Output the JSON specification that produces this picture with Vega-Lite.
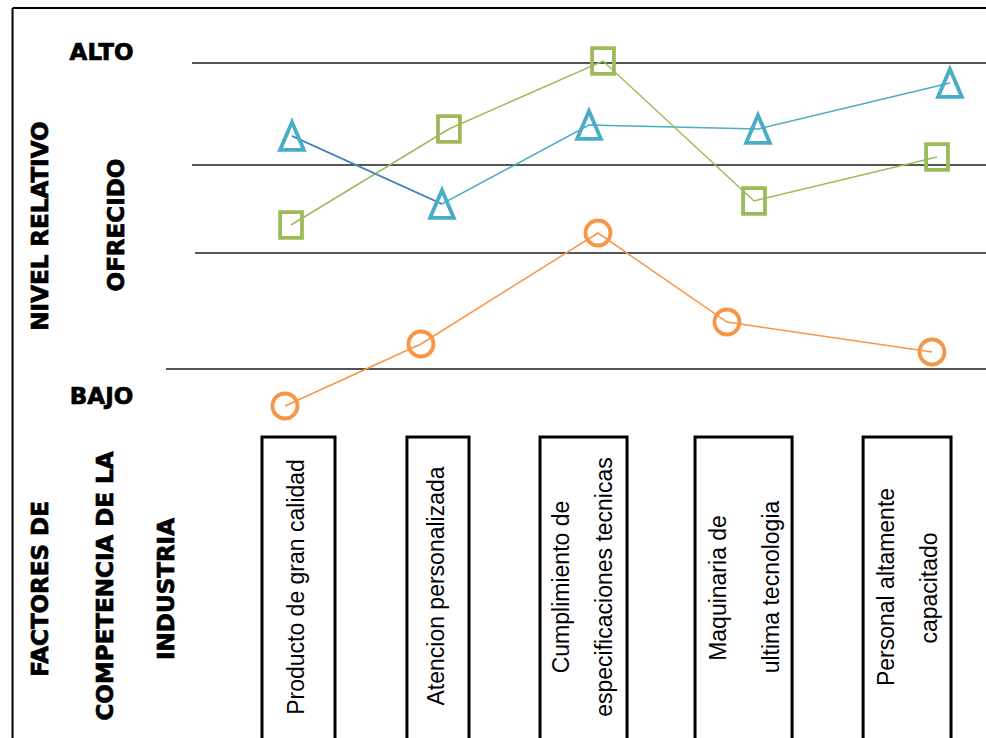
{
  "$schema": "https://vega.github.io/schema/vega-lite/v6.json",
  "width": 986,
  "height": 738,
  "autosize": {"type": "none"},
  "padding": 0,
  "background": "white",
  "config": {"view": {"stroke": null}},
  "datasets": {
    "puntos": [
      {"serie": "Serie 1", "factor": 1, "x": 0.957, "nivel": 7.587},
      {"serie": "Serie 1", "factor": 2, "x": 1.943, "nivel": 5.610},
      {"serie": "Serie 1", "factor": 3, "x": 2.910, "nivel": 7.907},
      {"serie": "Serie 1", "factor": 4, "x": 4.021, "nivel": 7.791},
      {"serie": "Serie 1", "factor": 5, "x": 5.283, "nivel": 9.128},
      {"serie": "Serie 2", "factor": 1, "x": 0.951, "nivel": 5.000},
      {"serie": "Serie 2", "factor": 2, "x": 1.989, "nivel": 7.791},
      {"serie": "Serie 2", "factor": 3, "x": 3.002, "nivel": 9.767},
      {"serie": "Serie 2", "factor": 4, "x": 3.995, "nivel": 5.698},
      {"serie": "Serie 2", "factor": 5, "x": 5.198, "nivel": 6.977},
      {"serie": "Serie 3", "factor": 1, "x": 0.911, "nivel": -0.262},
      {"serie": "Serie 3", "factor": 2, "x": 1.805, "nivel": 1.541},
      {"serie": "Serie 3", "factor": 3, "x": 2.969, "nivel": 4.767},
      {"serie": "Serie 3", "factor": 4, "x": 3.817, "nivel": 2.180},
      {"serie": "Serie 3", "factor": 5, "x": 5.165, "nivel": 1.308}
    ],
    "guias": [
      {"nivel": 9.709, "desde": 0.300, "hasta": 5.52},
      {"nivel": 6.744, "desde": 0.300, "hasta": 5.52},
      {"nivel": 4.186, "desde": 0.320, "hasta": 5.52},
      {"nivel": 0.814, "desde": 0.129, "hasta": 5.52}
    ],
    "marco": [
      {"x": -0.880, "x2": -0.880, "y": -9.913, "y2": 11.308},
      {"x": -0.880, "x2": 5.52, "y": 11.308, "y2": 11.308}
    ],
    "cajas": [
      {"factor": "Producto de gran calidad", "x1": 0.760, "x2": 1.240, "arriba": -1.163, "abajo": -10.5},
      {"factor": "Atencion personalizada", "x1": 1.713, "x2": 2.121, "arriba": -1.163, "abajo": -10.5},
      {"factor": "Cumplimiento de especificaciones tecnicas", "x1": 2.588, "x2": 3.160, "arriba": -1.163, "abajo": -10.5},
      {"factor": "Maquinaria de ultima tecnologia", "x1": 3.607, "x2": 4.245, "arriba": -1.163, "abajo": -10.5},
      {"factor": "Personal altamente capacitado", "x1": 4.712, "x2": 5.290, "arriba": -1.163, "abajo": -10.5}
    ],
    "etiquetas": [
      {"linea": "Producto de gran calidad", "x": 0.990, "nivel": -5.523},
      {"linea": "Atencion personalizada", "x": 1.911, "nivel": -5.494},
      {"linea": "Cumplimiento de", "x": 2.732, "nivel": -5.523},
      {"linea": "especificaciones tecnicas", "x": 3.015, "nivel": -5.523},
      {"linea": "Maquinaria de", "x": 3.762, "nivel": -5.552},
      {"linea": "ultima tecnologia", "x": 4.113, "nivel": -5.523},
      {"linea": "Personal altamente", "x": 4.869, "nivel": -5.523},
      {"linea": "capacitado", "x": 5.152, "nivel": -5.552}
    ],
    "niveles": [
      {"texto": "ALTO", "x": -0.295, "nivel": 10},
      {"texto": "BAJO", "x": -0.295, "nivel": 0}
    ],
    "titulos": [
      {"texto": "NIVEL RELATIVO", "x": -0.693, "nivel": 4.971},
      {"texto": "OFRECIDO", "x": -0.193, "nivel": 5.0},
      {"texto": "FACTORES DE", "x": -0.693, "nivel": -5.581},
      {"texto": "COMPETENCIA DE LA", "x": -0.266, "nivel": -5.494},
      {"texto": "INDUSTRIA", "x": 0.135, "nivel": -5.581}
    ]
  },
  "layer": [
    {
      "data": {"name": "guias"},
      "mark": {"type": "rule", "stroke": "#555555", "strokeWidth": 2},
      "encoding": {
        "x": {"field": "desde", "type": "quantitative", "scale": {"domain": [-0.9625, 5.52], "nice": false, "zero": false}, "axis": null},
        "x2": {"field": "hasta"},
        "y": {"field": "nivel", "type": "quantitative", "scale": {"domain": [-9.913, 11.541], "nice": false, "zero": false}, "axis": null}
      }
    },
    {
      "data": {"name": "marco"},
      "mark": {"type": "rule", "stroke": "black", "strokeWidth": 2},
      "encoding": {
        "x": {"field": "x", "type": "quantitative"},
        "x2": {"field": "x2"},
        "y": {"field": "y", "type": "quantitative"},
        "y2": {"field": "y2"}
      }
    },
    {
      "data": {"name": "cajas"},
      "mark": {"type": "rect", "fill": "white", "stroke": "black", "strokeWidth": 3, "clip": true},
      "encoding": {
        "x": {"field": "x1", "type": "quantitative"},
        "x2": {"field": "x2"},
        "y": {"field": "arriba", "type": "quantitative"},
        "y2": {"field": "abajo"}
      }
    },
    {
      "data": {"name": "etiquetas"},
      "mark": {"type": "text", "angle": 270, "align": "center", "baseline": "middle", "font": "Liberation Sans", "fontSize": 23, "color": "black"},
      "encoding": {
        "x": {"field": "x", "type": "quantitative"},
        "y": {"field": "nivel", "type": "quantitative"},
        "text": {"field": "linea"}
      }
    },
    {
      "data": {"name": "niveles"},
      "mark": {"type": "text", "align": "center", "baseline": "middle", "font": "DejaVu Sans", "fontWeight": "bold", "fontSize": 23, "color": "black", "stroke": "black", "strokeWidth": 0.7},
      "encoding": {
        "x": {"field": "x", "type": "quantitative"},
        "y": {"field": "nivel", "type": "quantitative"},
        "text": {"field": "texto"}
      }
    },
    {
      "data": {"name": "titulos"},
      "mark": {"type": "text", "angle": 270, "align": "center", "baseline": "middle", "font": "DejaVu Sans", "fontWeight": "bold", "fontSize": 23, "color": "black", "stroke": "black", "strokeWidth": 0.7},
      "encoding": {
        "x": {"field": "x", "type": "quantitative"},
        "y": {"field": "nivel", "type": "quantitative"},
        "text": {"field": "texto"}
      }
    },
    {
      "data": {"name": "puntos"},
      "mark": {"type": "line", "strokeWidth": 1.5},
      "encoding": {
        "x": {"field": "x", "type": "quantitative"},
        "y": {"field": "nivel", "type": "quantitative"},
        "color": {"field": "serie", "type": "nominal", "scale": {"domain": ["Serie 1", "Serie 2", "Serie 3"], "range": ["#4BACC6", "#9BBB59", "#F79646"]}, "legend": null},
        "order": {"field": "factor", "type": "quantitative"}
      }
    },
    {
      "data": {"name": "puntos"},
      "transform": [{"filter": "datum.serie == 'Serie 1' && datum.factor <= 2"}],
      "mark": {"type": "line", "strokeWidth": 1.5, "color": "#4F81BD"},
      "encoding": {
        "x": {"field": "x", "type": "quantitative"},
        "y": {"field": "nivel", "type": "quantitative"},
        "order": {"field": "factor", "type": "quantitative"}
      }
    },
    {
      "data": {"name": "puntos"},
      "mark": {"type": "point", "filled": false, "strokeWidth": 3.8, "opacity": 1},
      "encoding": {
        "x": {"field": "x", "type": "quantitative"},
        "y": {"field": "nivel", "type": "quantitative"},
        "color": {"field": "serie", "type": "nominal", "legend": null},
        "shape": {"field": "serie", "type": "nominal", "scale": {"domain": ["Serie 1", "Serie 2", "Serie 3"], "range": ["M0,-1.05L-0.9,1.05L0.9,1.05Z", "M-0.85,-1L0.85,-1L0.85,1L-0.85,1Z", "circle"]}, "legend": null},
        "size": {"field": "serie", "type": "nominal", "scale": {"domain": ["Serie 1", "Serie 2", "Serie 3"], "range": [700, 625, 506]}, "legend": null}
      }
    }
  ]
}
